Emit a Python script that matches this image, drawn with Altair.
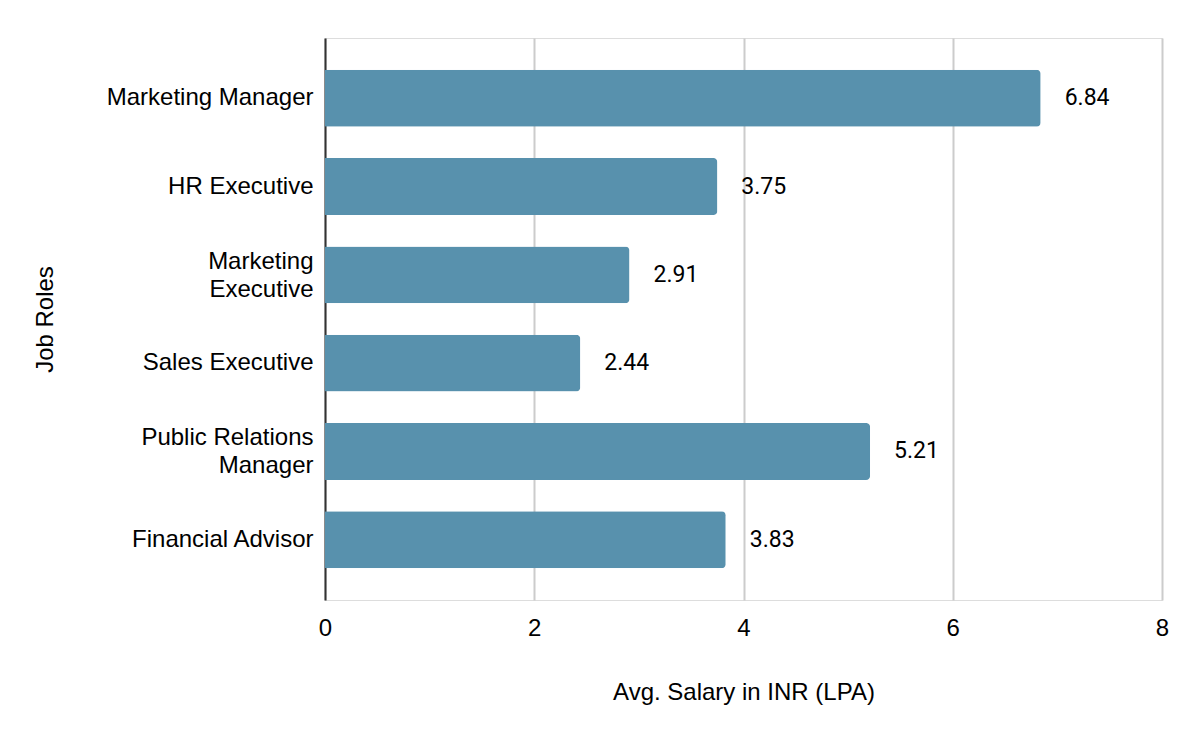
import altair as alt
import pandas as pd

roles = ["Marketing Manager", "HR Executive", "Marketing|Executive", "Sales Executive",
         "Public Relations|Manager", "Financial Advisor"]
salaries = [6.84, 3.75, 2.91, 2.44, 5.21, 3.83]
x_ticks = [0, 2, 4, 6, 8]

df = pd.DataFrame({"role": roles, "salary": salaries})
df["label"] = df["salary"].map(lambda v: f"{v:.2f}")

y_enc = alt.Y("role:N", sort=roles,
              scale=alt.Scale(paddingInner=0.355, paddingOuter=0.36),
              axis=alt.Axis(title="Job Roles", labelExpr="split(datum.label, '|')",
                            labelFont="Liberation Sans", labelFontSize=24, labelColor="#000",
                            labelLineHeight=28, labelPadding=12, labelLimit=400, ticks=False,
                            labelOffset={"condition": {"test": "indexof(datum.value, '|') >= 0", "value": -13}, "value": 0},
                            domainColor="#333333", domainWidth=2,
                            titleFont="Liberation Sans", titleFontSize=24, titleFontWeight="normal",
                            titleColor="#000", titlePadding=68, grid=False))

x_enc = alt.X("salary:Q", scale=alt.Scale(domain=[0, 8], nice=False),
              axis=alt.Axis(title="Avg. Salary in INR (LPA)", values=x_ticks, format="d",
                            labelFont="Liberation Sans", labelFontSize=24, labelColor="#000",
                            labelPadding=16, labelFlush=False, ticks=False, domain=False,
                            grid=True, gridColor="#cccccc", gridWidth=2,
                            titleFont="Liberation Sans", titleFontSize=24, titleFontWeight="normal",
                            titleColor="#000", titlePadding=40))

bars = alt.Chart(df).mark_bar(color="#5891AD", cornerRadiusTopRight=4,
                              cornerRadiusBottomRight=4).encode(x=x_enc, y=y_enc)

text = alt.Chart(df).mark_text(align="left", baseline="middle", dx=24, font="Roboto",
                               fontSize=23, color="#000").encode(
    x="salary:Q", y=alt.Y("role:N", sort=roles), text="label:N")

chart = (bars + text).properties(
    width=837, height=562,
    autosize=alt.AutoSizeParams(type="none"),
    padding={"left": 317, "top": 30, "right": 30, "bottom": 140},
).configure_view(stroke=None).configure(background="white")

chart.save("out.html", embed_options={"renderer": "svg", "actions": False})
